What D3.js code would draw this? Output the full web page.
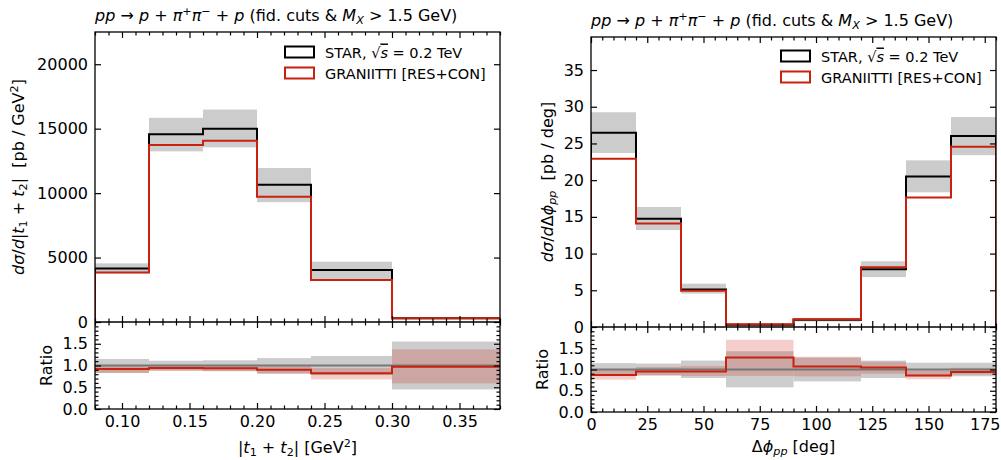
<!DOCTYPE html>
<html>
<head>
<meta charset="utf-8">
<script src="https://cdn.jsdelivr.net/npm/d3@7"></script>
<style>
  html, body { margin: 0; padding: 0; background: #fff; }
  svg { display: block; }
  text { font-family: "DejaVu Sans", sans-serif; fill: #000; white-space: pre; }
</style>
</head>
<body>
<svg id="chart" width="1001" height="460"></svg>
<script>
// ---------------- DATA ----------------
// Left: |t1+t2| distribution
const tEdges     = [0.08, 0.12, 0.16, 0.20, 0.24, 0.30, 0.38];
const tStar      = [4150, 14570, 15000, 10650, 4030, 290];
const tStarUp    = [4550, 15840, 16480, 11950, 4680, 330];
const tStarLo    = [3770, 13240, 13550, 9300, 3250, 250];
const tGran      = [3850, 13740, 14070, 9710, 3250, 285];
const tRatio     = [0.92, 0.945, 0.935, 0.90, 0.82, 0.97];
const tRatioStarUp = [1.15, 1.11, 1.12, 1.17, 1.22, 1.55];
const tRatioStarLo = [0.83, 0.88, 0.87, 0.81, 0.78, 0.45];
const tRatioGranUp = [1.00, 1.00, 1.00, 0.98, 0.94, 1.37];
const tRatioGranLo = [0.83, 0.88, 0.87, 0.82, 0.68, 0.59];
const tXTicks    = [0.10, 0.15, 0.20, 0.25, 0.30, 0.35];
const tYTicks    = [0, 5000, 10000, 15000, 20000];

// Right: delta phi_pp distribution
const phiEdges   = [0, 20, 40, 60, 90, 120, 140, 160, 180];
const phiStar    = [26.45, 14.75, 5.1, 0.3, 1.0, 7.85, 20.5, 26.0];
const phiStarUp  = [29.25, 16.35, 5.9, 0.42, 1.25, 8.95, 22.7, 28.6];
const phiStarLo  = [23.7, 13.2, 4.55, 0.18, 0.75, 6.8, 18.35, 23.4];
const phiGran    = [22.9, 14.1, 4.95, 0.38, 1.07, 8.15, 17.65, 24.55];
const phiRatio   = [0.87, 0.955, 0.955, 1.28, 1.07, 1.05, 0.86, 0.94];
const phiRatioStarUp = [1.15, 1.14, 1.21, 1.43, 1.28, 1.21, 1.16, 1.16];
const phiRatioStarLo = [0.85, 0.86, 0.80, 0.58, 0.72, 0.80, 0.84, 0.84];
const phiRatioGranUp = [0.99, 1.06, 1.08, 1.70, 1.30, 1.18, 0.97, 1.04];
const phiRatioGranLo = [0.76, 0.86, 0.85, 0.85, 0.84, 0.90, 0.77, 0.88];
const phiXTicks  = [0, 25, 50, 75, 100, 125, 150, 175];
const phiYTicks  = [0, 5, 10, 15, 20, 25, 30, 35];

const ratioTicks = [0.0, 0.5, 1.0, 1.5];
const legendLabels = ["STAR", "GRANIITTI [RES+CON]"];

// ---------------- STYLE ----------------
const RED = "#c8210d";
const BAND = "#cccccc";
const FS = 16;

const svg = d3.select("#chart");

// Rich text helper: parts = [[text, style], ...]
function rich(sel, parts, size) {
  let shift = 0;
  parts.forEach(([t, s]) => {
    const ts = sel.append("tspan").text(t);
    let target = 0, fs = size;
    if (s && s.includes("sup")) { target = -0.38 * size; fs = 0.7 * size; }
    if (s && s.includes("sub")) { target = 0.16 * size; fs = 0.7 * size; }
    ts.attr("font-size", fs);
    if (s && s.includes("i")) ts.attr("font-style", "italic");
    if (s && s.includes("o")) ts.style("text-decoration", "overline");
    const dy = target - shift;
    if (dy !== 0) ts.attr("dy", dy);
    shift = target;
  });
  return sel;
}

const titleParts = [["pp","i"],[" \u2192 ",""],["p","i"],[" + ",""],["\u03c0","i"],["+","sup"],["\u03c0","i"],["\u2212","sup"],[" + ",""],["p","i"],[" (fid. cuts & ",""],["M","i"],["X","isub"],[" > 1.5 GeV)",""]];

function drawPanel(cfg) {
  const g = svg.append("g");
  const x = d3.scaleLinear().domain(cfg.xDomain).range([cfg.x0, cfg.x1]);
  const y = d3.scaleLinear().domain(cfg.yDomain).range([cfg.yMid, cfg.yTop]);
  const yr = d3.scaleLinear().domain([0, 2]).range([cfg.yBot, cfg.yMid]);
  const e = cfg.edges;
  const n = e.length - 1;
  const idx = d3.range(n);

  const clipM = "clipM" + cfg.id, clipR = "clipR" + cfg.id;
  const defs = svg.append("defs");
  defs.append("clipPath").attr("id", clipM).append("rect")
    .attr("x", cfg.x0).attr("y", cfg.yTop).attr("width", cfg.x1 - cfg.x0).attr("height", cfg.yMid - cfg.yTop);
  defs.append("clipPath").attr("id", clipR).append("rect")
    .attr("x", cfg.x0).attr("y", cfg.yMid).attr("width", cfg.x1 - cfg.x0).attr("height", cfg.yBot - cfg.yMid);

  // ---- main panel ----
  const gm = g.append("g").attr("clip-path", `url(#${clipM})`);
  gm.selectAll("rect.band").data(idx).join("rect")
    .attr("x", i => x(e[i])).attr("width", i => x(e[i + 1]) - x(e[i]))
    .attr("y", i => y(cfg.starUp[i])).attr("height", i => y(cfg.starLo[i]) - y(cfg.starUp[i]))
    .attr("fill", BAND);

  const stepPts = vals => {
    const pts = [[e[0], 0]];
    idx.forEach(i => { pts.push([e[i], vals[i]]); pts.push([e[i + 1], vals[i]]); });
    pts.push([e[n], 0]);
    return pts;
  };
  const lineM = d3.line().x(d => x(d[0])).y(d => y(d[1]));
  gm.append("path").attr("d", lineM(stepPts(cfg.star))).attr("fill", "none")
    .attr("stroke", "#000").attr("stroke-width", 2);
  gm.append("path").attr("d", lineM(stepPts(cfg.gran))).attr("fill", "none")
    .attr("stroke", RED).attr("stroke-width", 2);

  // ---- ratio panel ----
  const gr = g.append("g").attr("clip-path", `url(#${clipR})`);
  gr.selectAll("rect.sband").data(idx).join("rect")
    .attr("x", i => x(e[i])).attr("width", i => x(e[i + 1]) - x(e[i]))
    .attr("y", i => yr(cfg.rStarUp[i])).attr("height", i => yr(cfg.rStarLo[i]) - yr(cfg.rStarUp[i]))
    .attr("fill", BAND);
  gr.selectAll("rect.gband").data(idx).join("rect")
    .attr("x", i => x(e[i])).attr("width", i => x(e[i + 1]) - x(e[i]))
    .attr("y", i => yr(cfg.rGranUp[i])).attr("height", i => yr(cfg.rGranLo[i]) - yr(cfg.rGranUp[i]))
    .attr("fill", RED).attr("fill-opacity", 0.22);
  gr.append("line").attr("x1", x(e[0])).attr("x2", x(e[n]))
    .attr("y1", yr(1)).attr("y2", yr(1)).attr("stroke", "#777").attr("stroke-width", 2);
  const rPts = [];
  idx.forEach(i => { rPts.push([e[i], cfg.ratio[i]]); rPts.push([e[i + 1], cfg.ratio[i]]); });
  gr.append("path").attr("d", d3.line().x(d => x(d[0])).y(d => yr(d[1]))(rPts))
    .attr("fill", "none").attr("stroke", RED).attr("stroke-width", 2);

  // ---- axes / ticks ----
  const tickStyle = sel => {
    sel.select(".domain").remove();
    sel.selectAll(".tick line").attr("stroke", "#000").attr("stroke-width", 1.2);
    sel.selectAll(".tick text").attr("font-size", FS).attr("font-family", "DejaVu Sans").attr("fill", "#000");
  };
  const minorX = d3.range(cfg.xDomain[0], cfg.xDomain[1] + 1e-9, cfg.xMinor)
    .filter(v => !cfg.xTicks.some(t => Math.abs(t - v) < 1e-9));
  const minorR = d3.range(0, 2.0001, 0.1).filter(v => Math.abs(v * 2 - Math.round(v * 2)) > 1e-6);

  const addAxis = (gen, transform, labels) => {
    const a = g.append("g").attr("transform", transform).call(gen);
    tickStyle(a);
    if (!labels) a.selectAll(".tick text").remove();
    return a;
  };
  // main x ticks (bottom/top, inward)
  [cfg.yMid, cfg.yTop].forEach((yy, k) => {
    const gen = (k === 0 ? d3.axisBottom(x) : d3.axisTop(x));
    addAxis(gen.tickValues(cfg.xTicks).tickSize(-6).tickSizeOuter(0), `translate(0,${yy})`, false);
    const genm = (k === 0 ? d3.axisBottom(x) : d3.axisTop(x));
    addAxis(genm.tickValues(minorX).tickSize(-3.5).tickSizeOuter(0), `translate(0,${yy})`, false);
  });
  // ratio x ticks (bottom labelled, top)
  addAxis(d3.axisBottom(x).tickValues(cfg.xTicks).tickSize(-6).tickSizeOuter(0).tickPadding(7).tickFormat(cfg.xFmt),
    `translate(0,${cfg.yBot})`, true);
  addAxis(d3.axisBottom(x).tickValues(minorX).tickSize(-3.5).tickSizeOuter(0), `translate(0,${cfg.yBot})`, false);
  addAxis(d3.axisTop(x).tickValues(cfg.xTicks).tickSize(-6).tickSizeOuter(0), `translate(0,${cfg.yMid})`, false);
  addAxis(d3.axisTop(x).tickValues(minorX).tickSize(-3.5).tickSizeOuter(0), `translate(0,${cfg.yMid})`, false);
  // main y ticks
  addAxis(d3.axisLeft(y).tickValues(cfg.yTicks).tickSize(-6).tickSizeOuter(0).tickPadding(7).tickFormat(d3.format("d")),
    `translate(${cfg.x0},0)`, true);
  addAxis(d3.axisRight(y).tickValues(cfg.yTicks).tickSize(-6).tickSizeOuter(0), `translate(${cfg.x1},0)`, false);
  // ratio y ticks
  addAxis(d3.axisLeft(yr).tickValues(ratioTicks).tickSize(-6).tickSizeOuter(0).tickPadding(7).tickFormat(d3.format(".1f")),
    `translate(${cfg.x0},0)`, true);
  addAxis(d3.axisLeft(yr).tickValues(minorR).tickSize(-3.5).tickSizeOuter(0), `translate(${cfg.x0},0)`, false);
  addAxis(d3.axisRight(yr).tickValues(ratioTicks).tickSize(-6).tickSizeOuter(0), `translate(${cfg.x1},0)`, false);
  addAxis(d3.axisRight(yr).tickValues(minorR).tickSize(-3.5).tickSizeOuter(0), `translate(${cfg.x1},0)`, false);

  // spines
  g.append("rect").attr("x", cfg.x0).attr("y", cfg.yTop).attr("width", cfg.x1 - cfg.x0)
    .attr("height", cfg.yBot - cfg.yTop).attr("fill", "none").attr("stroke", "#000").attr("stroke-width", 1.3);
  g.append("line").attr("x1", cfg.x0).attr("x2", cfg.x1).attr("y1", cfg.yMid).attr("y2", cfg.yMid)
    .attr("stroke", "#000").attr("stroke-width", 1.3);

  // title
  rich(g.append("text").attr("x", cfg.x0).attr("y", cfg.yTop - 11).attr("font-size", FS), titleParts, FS);

  // labels
  rich(g.append("text").attr("text-anchor", "middle")
    .attr("transform", `translate(${cfg.yLabX},${(cfg.yTop + cfg.yMid) / 2}) rotate(-90)`), cfg.yLabel, FS);
  g.append("text").attr("text-anchor", "middle").attr("font-size", FS)
    .attr("transform", `translate(${cfg.rLabX},${(cfg.yMid + cfg.yBot) / 2}) rotate(-90)`).text("Ratio");
  rich(g.append("text").attr("text-anchor", "middle")
    .attr("x", (cfg.x0 + cfg.x1) / 2).attr("y", cfg.xLabY), cfg.xLabel, FS);

  // legend
  const lx = cfg.legX, ly = cfg.legY;
  const LFS = 14.5;
  [["#000", [["STAR, \u221a",""],["s","io"],[" = 0.2 TeV",""]]], [RED, [[legendLabels[1], ""]]]].forEach(([c, parts], k) => {
    const yy = ly + k * 21;
    g.append("rect").attr("x", lx).attr("y", yy - 5.5).attr("width", 29).attr("height", 11)
      .attr("fill", "none").attr("stroke", c).attr("stroke-width", 2);
    rich(g.append("text").attr("x", lx + 40).attr("y", yy + 5.5).attr("font-size", LFS), parts, LFS);
  });
}

drawPanel({
  id: "L", x0: 95, x1: 500, yTop: 32, yMid: 322, yBot: 409,
  xDomain: [0.08, 0.38], yDomain: [0, 22500], xMinor: 0.01,
  edges: tEdges, star: tStar, starUp: tStarUp, starLo: tStarLo, gran: tGran,
  ratio: tRatio, rStarUp: tRatioStarUp, rStarLo: tRatioStarLo, rGranUp: tRatioGranUp, rGranLo: tRatioGranLo,
  xTicks: tXTicks, yTicks: tYTicks, xFmt: d3.format(".2f"),
  yLabX: 24, rLabX: 52, xLabY: 453,
  yLabel: [["d\u03c3","i"],["/",""],["d","i"],["|",""],["t","i"],["1","sub"],[" + ",""],["t","i"],["2","sub"],["|  [pb / GeV",""],["2","sup"],["]",""]],
  xLabel: [["|",""],["t","i"],["1","sub"],[" + ",""],["t","i"],["2","sub"],["| [GeV",""],["2","sup"],["]",""]],
  legX: 285, legY: 52
});

drawPanel({
  id: "R", x0: 591, x1: 996, yTop: 37, yMid: 327, yBot: 412,
  xDomain: [0, 180], yDomain: [0, 39.5], xMinor: 5,
  edges: phiEdges, star: phiStar, starUp: phiStarUp, starLo: phiStarLo, gran: phiGran,
  ratio: phiRatio, rStarUp: phiRatioStarUp, rStarLo: phiRatioStarLo, rGranUp: phiRatioGranUp, rGranLo: phiRatioGranLo,
  xTicks: phiXTicks, yTicks: phiYTicks, xFmt: d3.format("d"),
  yLabX: 553, rLabX: 548, xLabY: 452,
  yLabel: [["d\u03c3","i"],["/",""],["d","i"],["\u0394",""],["\u03d5","i"],["pp","isub"],["  [pb / deg]",""]],
  xLabel: [["\u0394",""],["\u03d5","i"],["pp","isub"],[" [deg]",""]],
  legX: 781, legY: 56
});
</script>
</body>
</html>
